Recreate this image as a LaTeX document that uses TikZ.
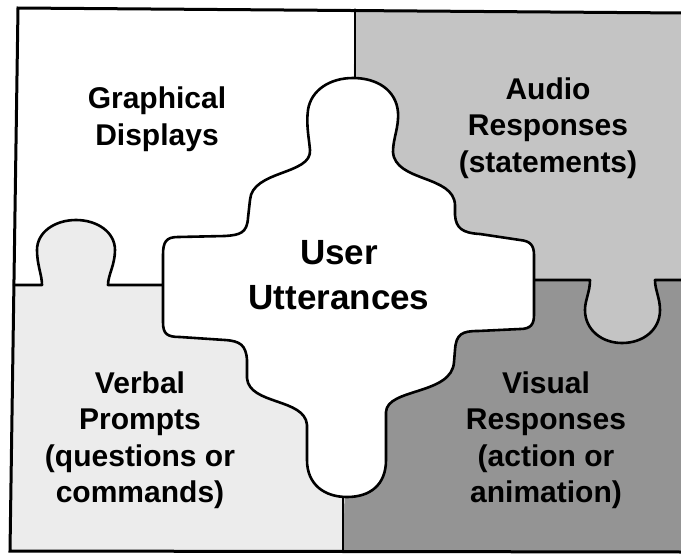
\documentclass[tikz,border=0pt]{standalone}
\usepackage{fontspec}
\setmainfont{Liberation Sans}
\definecolor{paneTR}{RGB}{196,196,196}
\definecolor{paneBR}{RGB}{148,148,148}
\definecolor{paneBL}{RGB}{236,236,236}
\begin{document}
\begin{tikzpicture}[x=1pt,y=-1pt,
  outline/.style={line width=2.6pt, line join=round, line cap=round},
  framestyle/.style={line width=3pt, line join=miter},
  piecelabel/.style={align=center, inner sep=0pt,
    font=\fontsize{30}{36.5}\selectfont\bfseries},
  hublabel/.style={align=center, inner sep=0pt,
    font=\fontsize{35}{45}\selectfont\bfseries}]
\useasboundingbox (0,0) rectangle (681,555);

% outer frame corners
\coordinate (fTL) at (18,8);
\coordinate (fTR) at (684,13);
\coordinate (fBR) at (684,552);
\coordinate (fBL) at (10,551);
% seams between the four pieces
\coordinate (vT)   at (355,9.5);
\coordinate (vTin) at (355,84);
\coordinate (vB)   at (343,551.5);
\coordinate (vBin) at (343,492);
\coordinate (hL)   at (14,285);
\coordinate (hLin) at (168,285);
\coordinate (hR)   at (684,280);
\coordinate (hRin) at (530,280);

% piece backgrounds
\fill[white]  (fTL) -- (fTR) -- (fBR) -- (fBL) -- cycle;
\fill[paneTR] (vT) -- (fTR) -- (hR) -- (350,282) -- cycle;
\fill[paneBR] (350,282) -- (hR) -- (fBR) -- (vB) -- cycle;
\fill[paneBL] (hL) -- (350,284) -- (vB) -- (fBL) -- cycle;

% knob of the lower-left piece
\def\leftknob{(42,285) .. controls (42,275) and (37,265) .. (37,250)
  .. controls (37,232) and (55,220) .. (76,220)
  .. controls (97,220) and (115,232) .. (115,250)
  .. controls (115,265) and (108,275) .. (108,285)}
% knob of the upper-right piece
\def\rightknob{(590,280) .. controls (590,292) and (585,300) .. (585,310)
  .. controls (585,330) and (602,343) .. (622,343)
  .. controls (643,343) and (660,330) .. (660,310)
  .. controls (660,298) and (655,290) .. (655,280)}

\fill[paneBL] \leftknob -- (108,287) -- (42,287) -- cycle;
\fill[paneTR] \rightknob -- (655,278) -- (590,278) -- cycle;

% seams
\draw[outline] (vT) -- (vTin);
\draw[outline] (vB) -- (vBin);
\draw[outline] (hL) -- \leftknob -- (hLin);
\draw[outline] (hRin) -- \rightknob -- (hR);

% central piece
\path[fill=white, draw, outline]
  (310,150) .. controls (309,138) and (306,125) .. (308,110)
  .. controls (311,90) and (330,78) .. (353,78)
  .. controls (377,78) and (396,90) .. (398,112)
  .. controls (399,128) and (393,138) .. (393,152)
  .. controls (395,182) and (454,175) .. (455,205)
  -- (455,215)
  .. controls (456,228) and (462,233) .. (480,234)
  -- (520,240)
  .. controls (530,241) and (534,245) .. (534,255)
  -- (534,315)
  .. controls (534,324) and (531,329) .. (520,329)
  -- (478,331)
  .. controls (462,331) and (456,334) .. (455,350)
  -- (454,362)
  .. controls (452,395) and (387,388) .. (386,412)
  -- (386,460)
  .. controls (386,485) and (370,497) .. (347,497)
  .. controls (325,497) and (307,485) .. (307,460)
  -- (307,425)
  .. controls (305,398) and (249,405) .. (247,378)
  -- (247,360)
  .. controls (246,345) and (240,341) .. (225,340)
  -- (180,337)
  .. controls (167,337) and (163,334) .. (163,322)
  -- (163,255)
  .. controls (163,242) and (166,237) .. (178,237)
  -- (225,236)
  .. controls (240,235) and (247,233) .. (248,218)
  -- (250,200)
  .. controls (252,170) and (312,175) .. (310,150)
  -- cycle;

% outer frame
\draw[framestyle] (fTL) -- (fTR) -- (fBR) -- (fBL) -- cycle;

% labels
\node[hublabel]   (hub) at (339,275) {User\\Utterances};
\node[piecelabel] (gd)  at (157,119) {Graphical\\Displays};
\node[piecelabel] (ar)  at (548,128) {Audio\\Responses\\(statements)};
\node[piecelabel] (vp)  at (140,440) {Verbal\\Prompts\\(questions or\\commands)};
\node[piecelabel] (vr)  at (546,440) {Visual\\Responses\\(action or\\animation)};
\end{tikzpicture}
\end{document}
